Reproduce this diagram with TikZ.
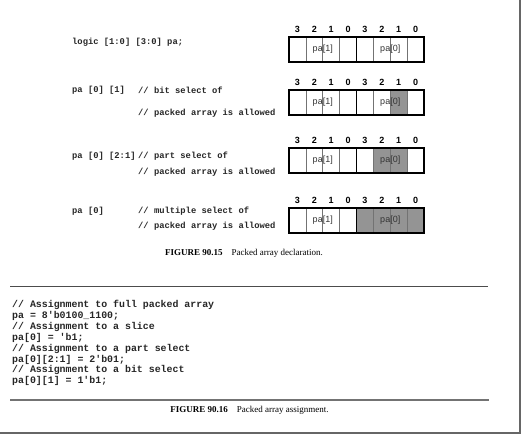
\documentclass[tikz,border=0pt]{standalone}
\usepackage{fontspec}
\setmainfont{Liberation Serif}
\setsansfont{Liberation Sans}
\setmonofont{Liberation Mono}

\tikzset{
  codetext/.style={anchor=west, inner sep=0pt, text=black!85,
    font=\ttfamily\bfseries\fontsize{8.8}{10}\selectfont},
  listing/.style={anchor=west, inner sep=0pt, text=black!85,
    font=\ttfamily\bfseries\fontsize{9.9}{10.8}\selectfont},
  bitnum/.style={inner sep=0pt, font=\sffamily\bfseries\fontsize{9}{10}\selectfont},
  fieldname/.style={inner sep=0pt, text=black!80, font=\sffamily\fontsize{9}{10}\selectfont},
  caption/.style={inner sep=0pt, font=\fontsize{9}{10}\selectfont},
  selbit/.style={fill=black!42},
}

\begin{document}
\begin{tikzpicture}[x=1pt,y=-1pt]
  \useasboundingbox (0,0) rectangle (524,437);

  % selected bits
  \foreach \top/\k in {90/6, 148/5, 148/6, 208/4, 208/5, 208/6, 208/7}
    \fill[selbit] ({289+\k*16.875},\top) rectangle ++(16.875,25);

  % packed arrays
  \foreach \top [count=\r] in {37,90,148,208} {
    \foreach \i in {1,...,7}
      \draw[black!55, line width=0.6pt] ({289+\i*16.875},\top) -- ++(0,25);
    \draw[line width=1.6pt] (289,\top) rectangle (424,{\top+25});
    \draw[line width=1.6pt] (356.5,\top) -- ++(0,25);
    \foreach \d [count=\k from 0] in {3,2,1,0,3,2,1,0}
      \node[bitnum] (n\r\k) at ({289+(\k+0.5)*16.875},{\top-8}) {\d};
    \node[fieldname] (hi\r) at ({289+2*16.875},{\top+12.5}) {pa[1]};
    \node[fieldname] (lo\r) at ({289+6*16.875},{\top+12.5}) {pa[0]};
  }

  % declarations and selects
  \node[codetext] (decl) at (72,42) {logic [1:0] [3:0] pa;};
  \node[codetext] (bitsel) at (72,90) {pa [0] [1]};
  \node[codetext] (bitnote) at (138,90) {// bit select of};
  \node[codetext] (bitnoteb) at (138,113) {// packed array is allowed};
  \node[codetext] (partsel) at (72,156) {pa [0] [2:1]};
  \node[codetext] (partnote) at (138,156) {// part select of};
  \node[codetext] (partnoteb) at (138,172) {// packed array is allowed};
  \node[codetext] (multsel) at (72,211) {pa [0]};
  \node[codetext] (multnote) at (138,211) {// multiple select of};
  \node[codetext] (multnoteb) at (138,226) {// packed array is allowed};

  \node[caption] (figa) at (244,253) {\textbf{FIGURE 90.15}\quad Packed array declaration.};

  % assignment listing
  \draw[black!70, line width=0.8pt] (10,286) -- (488,286);
  \node[listing] (l1) at (12,305) {// Assignment to full packed array};
  \node[listing] (l2) at (12,316) {pa = 8'b0100\_1100;};
  \node[listing] (l3) at (12,327) {// Assignment to a slice};
  \node[listing] (l4) at (12,338) {pa[0] = 'b1;};
  \node[listing] (l5) at (12,349) {// Assignment to a part select};
  \node[listing] (l6) at (12,359.5) {pa[0][2:1] = 2'b01;};
  \node[listing] (l7) at (12,370) {// Assignment to a bit select};
  \node[listing] (l8) at (12,381) {pa[0][1] = 1'b1;};
  \draw[black!55, line width=1.4pt] (10,400) -- (489,400);

  \node[caption] (figb) at (249.5,410) {\textbf{FIGURE 90.16}\quad Packed array assignment.};

  % page edge
  \draw[black!60, line width=1.2pt] (0,433) -- (520,433) -- (520,0);
\end{tikzpicture}
\end{document}
